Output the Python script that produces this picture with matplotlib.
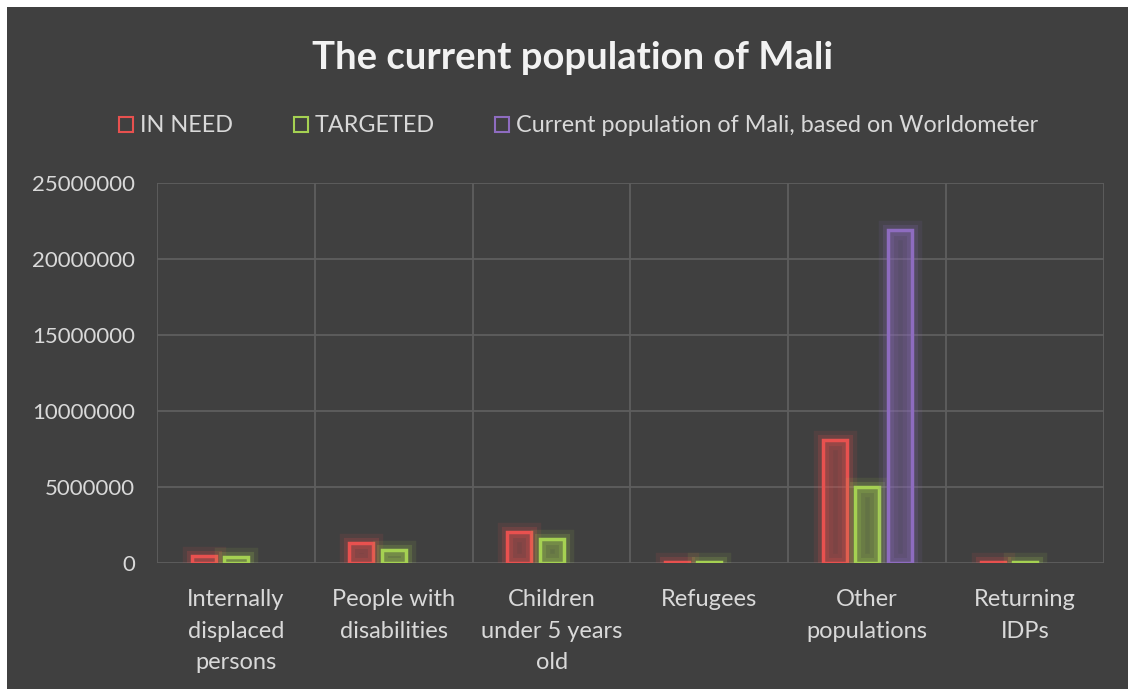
import matplotlib.pyplot as plt
import matplotlib.patheffects as pe
from matplotlib.patches import Patch, Rectangle
import numpy as np

categories = ['Internally\ndisplaced\npersons', 'People with\ndisabilities',
              'Children\nunder 5 years\nold', 'Refugees', 'Other\npopulations',
              'Returning\nIDPs']
in_need = [450000, 1300000, 2050000, 50000, 8100000, 60000]
targeted = [380000, 880000, 1600000, 40000, 5000000, 50000]
current_pop = [0, 0, 0, 0, 21900000, 0]
series_names = ['IN NEED', 'TARGETED', 'Current population of Mali, based on Worldometer']
colors = ['#E8514F', '#A5D152', '#8E6CC0']

bg = '#404040'
txt = '#D9D9D9'
plt.rcParams['font.family'] = ['Lato', 'DejaVu Sans']

fig = plt.figure(figsize=(11.28, 6.89), dpi=100)
fig.patch.set_facecolor('white')
fig.patches.append(Rectangle((7 / 1128, 0), 1, 1 - 7 / 689, transform=fig.transFigure,
                             facecolor=bg, edgecolor='none', zorder=-10))

ax = fig.add_axes([157 / 1128, 1 - 563 / 689, (1104 - 157) / 1128, (563 - 183) / 689])
ax.set_facecolor(bg)

x = np.arange(len(categories))
offset = 0.205
width = 0.152
for i, (vals, col) in enumerate(zip([in_need, targeted, current_pop], colors)):
    vals = np.array(vals, dtype=float)
    keep = vals > 0
    bars = ax.bar(x[keep] + (i - 1) * offset, vals[keep], width=width,
                  facecolor=col + '22', edgecolor=col, linewidth=2.5, zorder=3)
    for b in bars:
        b.set_path_effects([pe.Stroke(linewidth=14, foreground=col, alpha=0.1),
                            pe.Stroke(linewidth=8, foreground=col, alpha=0.18),
                            pe.Normal()])

ax.set_xlim(-0.5, len(categories) - 0.5)
ax.set_ylim(0, 25000000)
ax.set_yticks(np.arange(0, 25000001, 5000000))
ax.set_yticklabels([str(v) for v in range(0, 25000001, 5000000)])
ax.set_xticks(x)
ax.set_xticklabels(categories, linespacing=1.6)
ax.set_xticks(np.arange(-0.5, len(categories), 1), minor=True)
ax.grid(axis='y', color='#5E5E5E', linewidth=1.3, zorder=0)
ax.grid(axis='x', which='minor', color='#5E5E5E', linewidth=1.3, zorder=0)
ax.tick_params(axis='y', which='both', length=0, colors=txt, labelsize=16, pad=16)
ax.tick_params(axis='x', which='both', length=0, colors=txt, labelsize=17, pad=19)
for s in ax.spines.values():
    s.set_visible(False)

fig.text(0.5 + 9 / 1128, 1 - 58 / 689, 'The current population of Mali', ha='center',
         va='center', fontsize=27.5, fontweight='bold', color='#F2F2F2')

handles = [Patch(facecolor='none', edgecolor=c, linewidth=1.5) for c in colors]
fig.legend(handles, series_names, loc='center', bbox_to_anchor=(0.513, 1 - 126 / 689),
           ncol=3, frameon=False, fontsize=16.8, labelcolor=txt, handlelength=0.6,
           handleheight=0.6, handletextpad=0.3, columnspacing=2.6)

fig.savefig('out.png', dpi=100, facecolor=fig.get_facecolor())
